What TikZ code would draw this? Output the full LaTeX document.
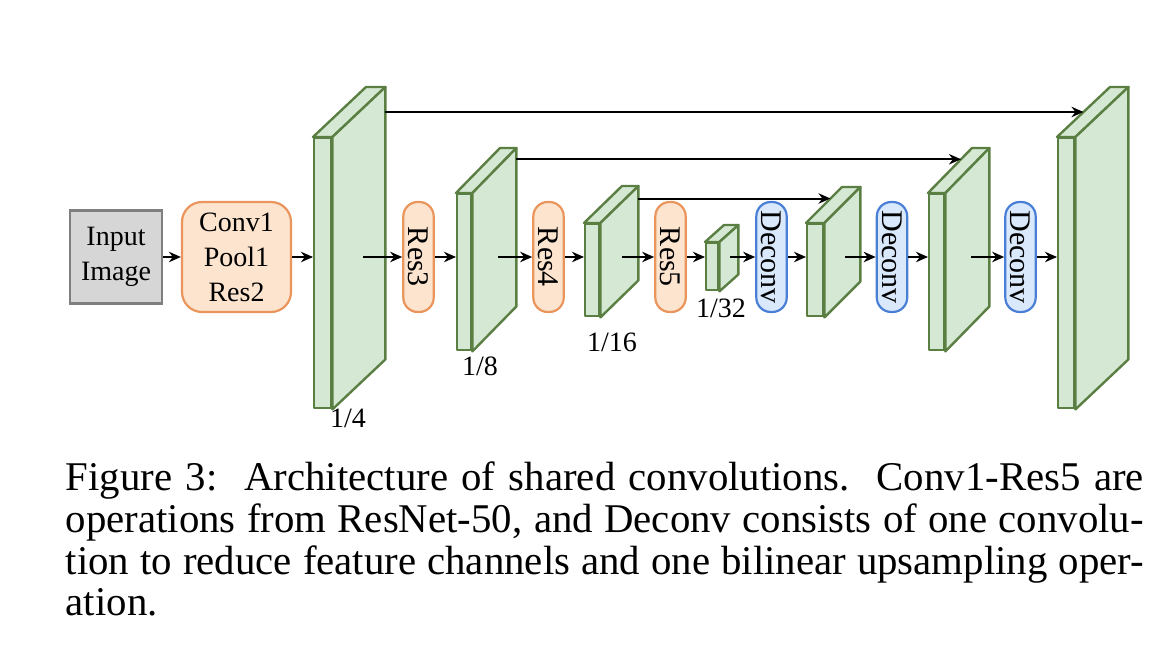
\documentclass[tikz,border=0pt]{standalone}
\usepackage{fontspec}
\setmainfont{Liberation Serif}
\usepackage{graphicx, xcolor}
\usetikzlibrary{arrows.meta, calc}
\definecolor{slabfill}{HTML}{D5E8D4}
\definecolor{slabline}{HTML}{5B7F43}
\definecolor{resfill}{HTML}{FCE4CE}
\definecolor{resline}{HTML}{E9955C}
\definecolor{decfill}{HTML}{DAE8FC}
\definecolor{decline}{HTML}{4A7FD6}
\definecolor{imgfill}{HTML}{D6D6D6}
\definecolor{imgline}{HTML}{7F7F7F}
\begin{document}
\begin{tikzpicture}[x=0.25pt,y=-0.25pt,>={Stealth[length=3pt,width=2.6pt]},
  slab/.style={draw=slabline,fill=slabfill,line width=0.6pt,line join=round},
  box/.style={draw,line width=0.55pt,inner sep=0pt,align=center,font=\fontsize{7}{8.6}\selectfont},
  imgbox/.style={box,draw=imgline,fill=imgfill,minimum width=23pt,minimum height=23.25pt},
  resbox/.style={box,draw=resline,fill=resfill,rounded corners=3.6pt,minimum width=7.6pt,minimum height=27.5pt,font=\fontsize{7.5}{9}\selectfont},
  decbox/.style={resbox,draw=decline,fill=decfill},
  link/.style={->,line width=0.5pt},
  lbl/.style={font=\fontsize{7}{8.6}\selectfont,inner sep=0pt}]
\useasboundingbox (0,0) rectangle (1166,662);
\node[imgbox] (img) at (116,257) {Input\\Image};
\node[resbox,minimum width=27.25pt,rounded corners=5pt,font=\fontsize{7}{8.75}\selectfont] (conv) at (236.5,257) {Conv1\\Pool1\\Res2};
\node[resbox] (r3) at (418.5,257) {\rotatebox{-90}{Res3}};
\node[resbox] (r4) at (548.5,257) {\rotatebox{-90}{Res4}};
\node[resbox] (r5) at (670.5,257) {\rotatebox{-90}{Res5}};
\node[decbox] (d1) at (771.5,257) {\rotatebox{-90}{Deconv}};
\node[decbox] (d2) at (892,257) {\rotatebox{-90}{Deconv}};
\node[decbox] (d3) at (1020.5,257) {\rotatebox{-90}{Deconv}};
\foreach \n/\xl/\yt/\yb/\w/\dx/\dy in {s1/313/137/407/17/53/-50, s2/456/193/349/14/44/-45, s3/584/223/315/14/38/-37, s4/705/242/289/12/19/-17, s5/806/223/315/16/36/-36, s6/928/193/349/15/44/-45, s7/1057/137/407/16/53/-50} {
  \node[slab,anchor=north west,inner sep=0pt,minimum width=\w*0.25pt,minimum height=(\yb-\yt)*0.25pt] (\n) at (\xl,\yt) {};
  \draw[slab] (\n.north west) -- ++(\dx,\dy) -- ($(\n.north east)+(\dx,\dy)$) -- (\n.north east) -- cycle;
  \draw[slab] (\n.north east) -- ++(\dx,\dy) -- ($(\n.south east)+(\dx,\dy)$) -- (\n.south east) -- cycle;
  \coordinate (\n-tl) at ($(\n.north west)+(\dx,\dy)$);
  \coordinate (\n-tr) at ($(\n.north east)+(\dx,\dy)$);
  \coordinate (\n-o) at ($(\n.east)+(0.58*\dx,0)$);
}
\node[lbl] (l1) at (348,418) {1/4};
\node[lbl] (l2) at (480,366) {1/8};
\node[lbl] (l3) at (612,342) {1/16};
\node[lbl] (l4) at (721,308) {1/32};
\draw[link] (img.east) -- (conv.west);
\draw[link] (conv.east) -- (conv.east -| s1.west);
\foreach \a/\b/\c in {s1/r3/s2, s2/r4/s3, s3/r5/s4, s4/d1/s5, s5/d2/s6, s6/d3/s7} {
  \draw[link] (\a-o |- \b.west) -- (\b.west);
  \draw[link] (\b.east) -- (\b.east -| \c.west);
}
\coordinate (m7) at ($(s7.north west)!0.5!(s7-tl)$);
\coordinate (m6) at ($(s6.north west)!0.75!(s6-tl)$);
\coordinate (m5) at ($(s5.north west)!0.68!(s5-tl)$);
\draw[link] (s1-tr |- m7) -- (m7);
\draw[link] (s2-tr |- m6) -- (m6);
\draw[link] (s3-tr |- m5) -- (m5);
\node[anchor=north west,inner sep=0pt,align=left,font=\fontsize{10.2}{10.45}\selectfont] (cap) at (65,461) {\makebox[269.5pt][s]{Figure 3:\ \ Architecture of shared convolutions.\ \ Conv1-Res5 are}\\\makebox[269.5pt][s]{operations from ResNet-50, and Deconv consists of one convolu-}\\\makebox[269.5pt][s]{tion to reduce feature channels and one bilinear upsampling oper-}\\ation.};
\end{tikzpicture}
\end{document}
